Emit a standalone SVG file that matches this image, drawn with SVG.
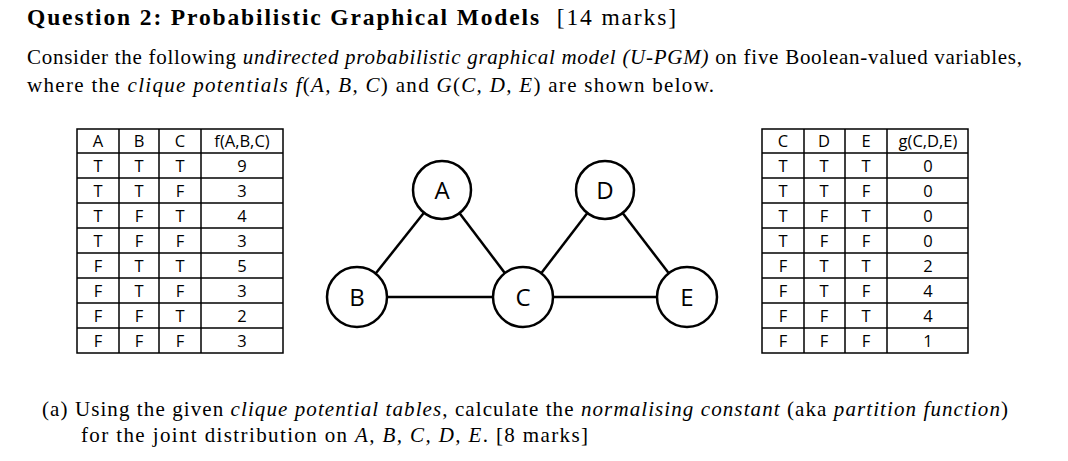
<svg xmlns="http://www.w3.org/2000/svg" width="1068" height="461" viewBox="0 0 1068 461">
<style>
.t{font-family:"Liberation Serif",serif;fill:#000}
.tb{font-family:"Liberation Serif",serif;font-weight:bold;font-size:23.5px}
.p{font-size:21px}
.c{font-family:"Open Sans","Liberation Sans",sans-serif;font-size:16.5px;text-anchor:middle}
.g line{stroke:#000;stroke-width:1.5}
.n circle{fill:#fff;stroke:#000;stroke-width:2.5}
.n text{font-family:"Open Sans","Liberation Sans",sans-serif;font-size:24px;text-anchor:middle}
.e line{stroke:#000;stroke-width:2.5}
</style>
<text class="tb" x="27" y="25" textLength="649" lengthAdjust="spacing">Question 2: Probabilistic Graphical Models <tspan font-weight="normal" dx="8">[14 marks]</tspan></text>
<text class="t p" x="27" y="64" textLength="995" lengthAdjust="spacing">Consider the following <tspan font-style="italic">undirected probabilistic graphical model (U-PGM)</tspan> on five Boolean-valued variables,</text>
<text class="t p" x="27" y="92" textLength="687" lengthAdjust="spacing">where the <tspan font-style="italic">clique potentials</tspan> <tspan font-style="italic">f</tspan>(<tspan font-style="italic">A, B, C</tspan>) and <tspan font-style="italic">G</tspan>(<tspan font-style="italic">C, D, E</tspan>) are shown below.</text>

<g id="tableF" class="g">
<rect x="77" y="129" width="206" height="224" fill="none" stroke="#000" stroke-width="1.5"/>
<line x1="119" y1="129" x2="119" y2="353"/><line x1="159" y1="129" x2="159" y2="353"/><line x1="201" y1="129" x2="201" y2="353"/>
<line x1="77" y1="153" x2="283" y2="153"/><line x1="77" y1="178" x2="283" y2="178"/><line x1="77" y1="203" x2="283" y2="203"/><line x1="77" y1="228" x2="283" y2="228"/><line x1="77" y1="253" x2="283" y2="253"/><line x1="77" y1="278" x2="283" y2="278"/><line x1="77" y1="303" x2="283" y2="303"/><line x1="77" y1="328" x2="283" y2="328"/>
<g class="c">
<text x="98" y="147">A</text><text x="139" y="147">B</text><text x="180" y="147">C</text><text x="242" y="147">f(A,B,C)</text>
<text x="98" y="172">T</text><text x="139" y="172">T</text><text x="180" y="172">T</text><text x="242" y="172">9</text>
<text x="98" y="197">T</text><text x="139" y="197">T</text><text x="180" y="197">F</text><text x="242" y="197">3</text>
<text x="98" y="222">T</text><text x="139" y="222">F</text><text x="180" y="222">T</text><text x="242" y="222">4</text>
<text x="98" y="247">T</text><text x="139" y="247">F</text><text x="180" y="247">F</text><text x="242" y="247">3</text>
<text x="98" y="272">F</text><text x="139" y="272">T</text><text x="180" y="272">T</text><text x="242" y="272">5</text>
<text x="98" y="297">F</text><text x="139" y="297">T</text><text x="180" y="297">F</text><text x="242" y="297">3</text>
<text x="98" y="322">F</text><text x="139" y="322">F</text><text x="180" y="322">T</text><text x="242" y="322">2</text>
<text x="98" y="347">F</text><text x="139" y="347">F</text><text x="180" y="347">F</text><text x="242" y="347">3</text>
</g>
</g>

<g id="tableG" class="g">
<rect x="762" y="129" width="206" height="224" fill="none" stroke="#000" stroke-width="1.5"/>
<line x1="804" y1="129" x2="804" y2="353"/><line x1="845" y1="129" x2="845" y2="353"/><line x1="887" y1="129" x2="887" y2="353"/>
<line x1="762" y1="153" x2="968" y2="153"/><line x1="762" y1="178" x2="968" y2="178"/><line x1="762" y1="203" x2="968" y2="203"/><line x1="762" y1="228" x2="968" y2="228"/><line x1="762" y1="253" x2="968" y2="253"/><line x1="762" y1="278" x2="968" y2="278"/><line x1="762" y1="303" x2="968" y2="303"/><line x1="762" y1="328" x2="968" y2="328"/>
<g class="c">
<text x="783" y="147">C</text><text x="824" y="147">D</text><text x="866" y="147">E</text><text x="928" y="147">g(C,D,E)</text>
<text x="783" y="172">T</text><text x="824" y="172">T</text><text x="866" y="172">T</text><text x="928" y="172">0</text>
<text x="783" y="197">T</text><text x="824" y="197">T</text><text x="866" y="197">F</text><text x="928" y="197">0</text>
<text x="783" y="222">T</text><text x="824" y="222">F</text><text x="866" y="222">T</text><text x="928" y="222">0</text>
<text x="783" y="247">T</text><text x="824" y="247">F</text><text x="866" y="247">F</text><text x="928" y="247">0</text>
<text x="783" y="272">F</text><text x="824" y="272">T</text><text x="866" y="272">T</text><text x="928" y="272">2</text>
<text x="783" y="297">F</text><text x="824" y="297">T</text><text x="866" y="297">F</text><text x="928" y="297">4</text>
<text x="783" y="322">F</text><text x="824" y="322">F</text><text x="866" y="322">T</text><text x="928" y="322">4</text>
<text x="783" y="347">F</text><text x="824" y="347">F</text><text x="866" y="347">F</text><text x="928" y="347">1</text>
</g>
</g>

<g id="edges" class="e">
<line x1="442" y1="190" x2="357" y2="297"/>
<line x1="442" y1="190" x2="523" y2="297"/>
<line x1="357" y1="297" x2="523" y2="297"/>
<line x1="605" y1="190" x2="523" y2="297"/>
<line x1="605" y1="190" x2="687" y2="297"/>
<line x1="523" y1="297" x2="687" y2="297"/>
</g>
<g id="A" class="n"><circle cx="442" cy="190" r="29"/><text x="442" y="199">A</text></g>
<g id="D" class="n"><circle cx="605" cy="190" r="29"/><text x="605" y="199">D</text></g>
<g id="B" class="n"><circle cx="357" cy="297" r="30"/><text x="357" y="306">B</text></g>
<g id="C" class="n"><circle cx="523" cy="297" r="30"/><text x="523" y="306">C</text></g>
<g id="E" class="n"><circle cx="687" cy="297" r="30"/><text x="687" y="306">E</text></g>

<text class="t p" x="42" y="416" textLength="966" lengthAdjust="spacing">(a) Using the given <tspan font-style="italic">clique potential tables</tspan>, calculate the <tspan font-style="italic">normalising constant</tspan> (aka <tspan font-style="italic">partition function</tspan>)</text>
<text class="t p" x="81" y="442" textLength="507" lengthAdjust="spacing">for the joint distribution on <tspan font-style="italic">A, B, C, D, E</tspan>.  [8 marks]</text>
</svg>
